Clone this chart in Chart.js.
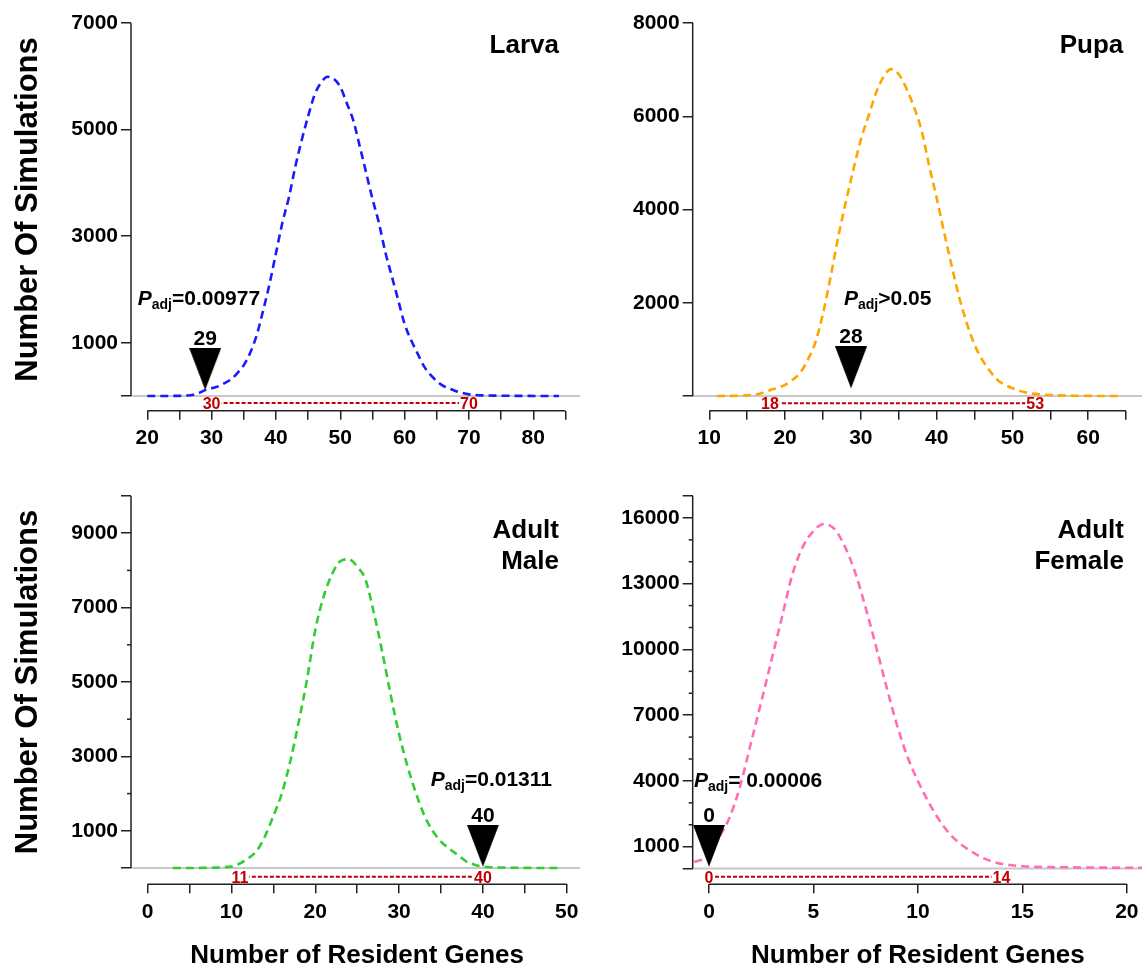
<!DOCTYPE html>
<html>
<head>
<meta charset="utf-8">
<title>Resident genes simulations</title>
<script src="https://cdn.jsdelivr.net/npm/chart.js@4.4.1/dist/chart.umd.min.js"></script>
<style>
  html, body { margin: 0; padding: 0; background: #fff; overflow: hidden; }
  #wrap { position: relative; width: 1142px; height: 966px; overflow: hidden; }
  #wrap canvas { position: absolute; left: 0; top: 0; }
</style>
</head>
<body>
<div id="wrap">
  <canvas id="larvaChart" width="1170" height="966"></canvas>
  <canvas id="pupaChart" width="1170" height="966"></canvas>
  <canvas id="maleChart" width="1170" height="966"></canvas>
  <canvas id="femaleChart" width="1170" height="966"></canvas>
</div>
<script>
// ---- data ----

// Larva
const larvaGenes = [20,21,22,23,24,25,26,27,28,29,30,31,32,33,34,35,36,37,38,39,40,41,42,43,44,45,46,47,48,49,50,51,52,53,54,55,56,57,58,59,60,61,62,63,64,65,66,67,68,69,70,71,72,73,74,75,76,77,78,79,80,81,82,83,84];
const larvaSims = [0,0,0,1,2,3,8,20,55,110, 145,180,240,310,430,580,810,1140,1600,2100,
  2680,3250,3720,4300,4800,5250,5650,5880,5990,5950, 5800,5500,5180,4700,4200,3700,3250,2700,2250,1800,
  1350,1050,800,560,400,280,190,140,90,55, 30,18,12,9,7,5,4,3,2,2, 1,1,0,0,0];
const larvaTicksX = [20,25,30,35,40,45,50,55,60,65,70,75,80,85];
const larvaLabelsX = ['20','','30','','40','','50','','60','','70','','80',''];
const larvaTicksY = [0,1000,3000,5000,7000];
const larvaLabelsY = ['','1000','3000','5000','7000'];
const larvaMinorY = [];
const larvaObserved = 29;
const larvaRange = [30, 70];

// Pupa
const pupaGenes = [11,12,13,14,15,16,17,18,19,20,21,22,23,24,25,26,27,28,29,30,31,32,33,34,35,36,37,38,39,40,41,42,43,44,45,46,47,48,49,50,51,52,53,54,55,56,57,58,59,60,61,62,63,64];
const pupaSims = [0,2,4,8,15,30,65,125,175,240, 350,500,780,1150,1770,2550,3400,4150,4850,5500,
  6000,6500,6850,7010,6900,6600,6200,5700,4950,4250, 3500,2780,2100,1550,1100,780,540,350,240,170,
  110,70,45,30,20,14,10,7,5,3, 2,1,0,0];
const pupaTicksX = [10,15,20,25,30,35,40,45,50,55,60,65];
const pupaLabelsX = ['10','','20','','30','','40','','50','','60',''];
const pupaTicksY = [0,2000,4000,6000,8000];
const pupaLabelsY = ['','2000','4000','6000','8000'];
const pupaMinorY = [];
const pupaObserved = 28.7;
const pupaRange = [18, 53];

// Adult male
const maleGenes = [3,4,5,6,7,8,9,10,11,12,13,14,15,16,17,18,19,20,21,22,23,24,25,26,27,28,29,30,31,32,33,34,35,36,37,38,39,40,41,42,43,44,45,46,47,48,49];
const maleSims = [0,0,0,2,5,10,20,40,120,260, 460,850,1400,2000,2850,3900,5050,6400,7300,7900,
  8250,8300,8100,7750,6850,5800,4650,3600,2740,2020, 1420,1000,710,520,350,180,90,40,20,12,
  8,5,3,2,1,0,0];
const maleTicksX = [0,5,10,15,20,25,30,35,40,45,50];
const maleLabelsX = ['0','','10','','20','','30','','40','','50'];
const maleTicksY = [0,1000,3000,5000,7000,9000,10000];
const maleLabelsY = ['','1000','3000','5000','7000','9000',''];
const maleMinorY = [2000,4000,6000,8000];
const maleObserved = 40;
const maleRange = [11, 40];

// Adult female
const femaleGenes = [-0.7,0,0.5,1,1.5,2,2.5,3,3.5,4,4.5,5,5.5,6,6.5,7,7.5,8,8.5,9,9.5,10,10.5,11,11.5,12,12.5,13,13.5,14,14.5,15,16,17,18,19,20,21,22];
const femaleSims = [300,600,1450,2360,3800,5700,7600,9550,11500,13450, 14700,15400,15720,15500,14700,13500,11900,10120,8280,6550,
  5100,4000,3050,2250,1610,1150,820,540,340,220, 150,110,75,60,50,45,40,40,40];
const femaleTicksX = [0,5,10,15,20];
const femaleLabelsX = ['0','5','10','15','20'];
const femaleTicksY = [0,1000,4000,7000,10000,13000,16000,17000];
const femaleLabelsY = ['','1000','4000','7000','10000','13000','16000',''];
const femaleMinorY = [2000,3000,5000,6000,8000,9000,11000,12000,14000,15000];
const femaleObserved = 0;
const femaleRange = [0, 14];

// ---- drawing ----

const FONT = "'Liberation Sans', Arial, Helvetica, sans-serif";
const CANVAS_W = 1170, CANVAS_H = 966;
const AXIS = '#222';
const RED = '#c00000';

Chart.defaults.font.family = FONT;
Chart.defaults.font.weight = 'bold';
Chart.defaults.font.size = 21;
Chart.defaults.color = '#000';

// tall down-pointing triangle; image is twice as high so its centre is the tip
function triangleImage(w, h) {
  const c = document.createElement('canvas');
  c.width = w; c.height = h * 2;
  const g = c.getContext('2d');
  g.fillStyle = '#000';
  g.beginPath();
  g.moveTo(0, 0); g.lineTo(w, 0); g.lineTo(w / 2, h);
  g.closePath(); g.fill();
  return c;
}
const markerImg = triangleImage(32, 42);

function figurePlugin(p) {
  return {
    id: 'figure_' + p.id,
    afterDraw(chart) {
      const ctx = chart.ctx;
      const xs = chart.scales.x, ys = chart.scales.y;
      const area = chart.chartArea;
      ctx.save();

      // y axis line, from 0 to the top value
      ctx.strokeStyle = AXIS;
      ctx.lineWidth = 1.5;
      ctx.beginPath();
      ctx.moveTo(area.left, ys.getPixelForValue(0));
      ctx.lineTo(area.left, ys.getPixelForValue(p.yTicks[p.yTicks.length - 1]));
      ctx.stroke();
      p.minorY.forEach(v => {
        const y = ys.getPixelForValue(v);
        ctx.beginPath();
        ctx.moveTo(area.left - 4, y);
        ctx.lineTo(area.left, y);
        ctx.stroke();
      });

      // x axis line, detached from the y axis
      ctx.beginPath();
      ctx.moveTo(xs.getPixelForValue(p.xTicks[0]), area.bottom);
      ctx.lineTo(xs.getPixelForValue(p.xTicks[p.xTicks.length - 1]), area.bottom);
      ctx.stroke();

      // observed value above the marker
      const pt = chart.getDatasetMeta(0).data[0];
      ctx.fillStyle = '#000';
      ctx.font = 'bold 21px ' + FONT;
      ctx.textAlign = 'center';
      ctx.textBaseline = 'alphabetic';
      ctx.fillText(String(Math.floor(p.observed)), pt.x, pt.y - 45);

      // range end labels
      ctx.font = 'bold 16px ' + FONT;
      const ry = ys.getPixelForValue(p.rangeY);
      p.range.forEach(v => {
        const rx = xs.getPixelForValue(v);
        const w = ctx.measureText(String(v)).width;
        ctx.fillStyle = '#fff';
        ctx.fillRect(rx - w / 2 - 1, ry - 6, w + 2, 12);
        ctx.fillStyle = RED;
        ctx.fillText(String(v), rx, ry + 6);
      });

      // P adj text
      ctx.fillStyle = '#000';
      ctx.textAlign = 'left';
      let tx = p.pText.x;
      ctx.font = 'italic bold 21px ' + FONT;
      ctx.fillText('P', tx, p.pText.y);
      tx += ctx.measureText('P').width;
      ctx.font = 'bold 14px ' + FONT;
      ctx.fillText('adj', tx, p.pText.y + 4);
      tx += ctx.measureText('adj').width;
      ctx.font = 'bold 21px ' + FONT;
      ctx.fillText(p.pText.rest, tx, p.pText.y);

      // panel title
      ctx.font = 'bold 26px ' + FONT;
      ctx.textAlign = 'right';
      p.title.forEach((line, i) => ctx.fillText(line, p.titleRight, p.titleY + i * 31.6));

      // axis titles
      if (p.yTitle) {
        ctx.save();
        ctx.font = 'bold 31px ' + FONT;
        ctx.textAlign = 'center';
        ctx.translate(37, (ys.getPixelForValue(0) + ys.getPixelForValue(p.yTicks[p.yTicks.length - 1])) / 2);
        ctx.rotate(-Math.PI / 2);
        ctx.fillText('Number Of Simulations', 0, 0);
        ctx.restore();
      }
      if (p.xTitle) {
        ctx.font = 'bold 26px ' + FONT;
        ctx.textAlign = 'center';
        const cx = (xs.getPixelForValue(p.xTicks[0]) + xs.getPixelForValue(p.xTicks[p.xTicks.length - 1])) / 2;
        ctx.fillText('Number of Resident Genes', cx, 963);
      }
      ctx.restore();
    }
  };
}

function makeChart(p) {
  const curve = p.genes.map((g, i) => ({ x: g, y: p.sims[i] }));
  new Chart(document.getElementById(p.id), {
    type: 'line',
    data: {
      datasets: [
        { data: [{ x: p.observed, y: p.markerY }], showLine: false,
          pointStyle: markerImg, pointRadius: 5, pointHoverRadius: 5 },
        { data: curve, borderColor: p.color, borderWidth: 2.6, borderDash: [8, 5],
          pointRadius: 0, cubicInterpolationMode: 'monotone', fill: false },
        { data: [{ x: p.range[0], y: p.rangeY }, { x: p.range[1], y: p.rangeY }],
          borderColor: RED, borderWidth: 2, borderDash: [4, 2], pointRadius: 0 },
        { data: [{ x: p.xMin, y: 0 }, { x: p.xMax, y: 0 }],
          borderColor: '#c8c8c8', borderWidth: 2, pointRadius: 0 }
      ]
    },
    options: {
      responsive: false,
      animation: false,
      devicePixelRatio: 1,
      events: [],
      layout: { padding: { top: p.area.top, right: CANVAS_W - p.area.right, left: 0, bottom: 0 } },
      plugins: { legend: { display: false }, tooltip: { enabled: false } },
      scales: {
        x: {
          type: 'linear', min: p.xMin, max: p.xMax, bounds: 'data',
          afterBuildTicks: s => { s.ticks = p.xTicks.map(v => ({ value: v })); },
          afterFit: s => { s.height = CANVAS_H - p.area.bottom; },
          ticks: { autoSkip: false, maxRotation: 0, padding: 6, callback: (v, i) => p.xLabels[i] },
          grid: { drawOnChartArea: false, drawTicks: true, tickLength: 9, color: AXIS, lineWidth: 1.5 },
          border: { display: false }
        },
        y: {
          type: 'linear', min: p.yMin, max: p.yTicks[p.yTicks.length - 1], bounds: 'data',
          afterBuildTicks: s => { s.ticks = p.yTicks.map(v => ({ value: v })); },
          afterFit: s => { s.width = p.area.left; },
          ticks: { autoSkip: false, padding: 3, callback: (v, i) => p.yLabels[i] },
          grid: { drawOnChartArea: false, drawTicks: true, tickLength: 10, color: AXIS, lineWidth: 1.5 },
          border: { display: false }
        }
      }
    },
    plugins: [figurePlugin(p)]
  });
}

document.addEventListener('DOMContentLoaded', function () {
  makeChart({
    id: 'larvaChart', color: '#1a1aff',
    genes: larvaGenes, sims: larvaSims,
    xTicks: larvaTicksX, xLabels: larvaLabelsX, yTicks: larvaTicksY, yLabels: larvaLabelsY, minorY: larvaMinorY,
    observed: larvaObserved, markerY: 113, range: larvaRange, rangeY: -131,
    xMin: 17.47, xMax: 87.26, yMin: -276,
    area: { left: 131, top: 23, right: 580, bottom: 410.7 },
    pText: { x: 137.7, y: 305, rest: '=0.00977' },
    title: ['Larva'], titleRight: 559, titleY: 53,
    yTitle: true, xTitle: false
  });
  makeChart({
    id: 'pupaChart', color: '#ffa500',
    genes: pupaGenes, sims: pupaSims,
    xTicks: pupaTicksX, xLabels: pupaLabelsX, yTicks: pupaTicksY, yLabels: pupaLabelsY, minorY: pupaMinorY,
    observed: pupaObserved, markerY: 165, range: pupaRange, rangeY: -157,
    xMin: 7.81, xMax: 70.0, yMin: -315,
    area: { left: 692.7, top: 23, right: 1165, bottom: 410.7 },
    pText: { x: 844, y: 305, rest: '>0.05' },
    title: ['Pupa'], titleRight: 1123.3, titleY: 53,
    yTitle: false, xTitle: false
  });
  makeChart({
    id: 'maleChart', color: '#33cc33',
    genes: maleGenes, sims: maleSims,
    xTicks: maleTicksX, xLabels: maleLabelsX, yTicks: maleTicksY, yLabels: maleLabelsY, minorY: maleMinorY,
    observed: maleObserved, markerY: 35, range: maleRange, rangeY: -234,
    xMin: -1.99, xMax: 51.59, yMin: -438,
    area: { left: 131, top: 496, right: 580, bottom: 884.3 },
    pText: { x: 430.7, y: 786, rest: '=0.01311' },
    title: ['Adult', 'Male'], titleRight: 559, titleY: 537.7,
    yTitle: true, xTitle: true
  });
  makeChart({
    id: 'femaleChart', color: '#ff6eb4',
    genes: femaleGenes, sims: femaleSims,
    xTicks: femaleTicksX, xLabels: femaleLabelsX, yTicks: femaleTicksY, yLabels: femaleLabelsY, minorY: femaleMinorY,
    observed: femaleObserved, markerY: 87, range: femaleRange, rangeY: -370,
    xMin: -0.78, xMax: 21.78, yMin: -716,
    area: { left: 692.7, top: 496, right: 1165, bottom: 884.3 },
    pText: { x: 694, y: 786.7, rest: '= 0.00006' },
    title: ['Adult', 'Female'], titleRight: 1124, titleY: 537.7,
    yTitle: false, xTitle: true
  });
});
</script>
</body>
</html>
